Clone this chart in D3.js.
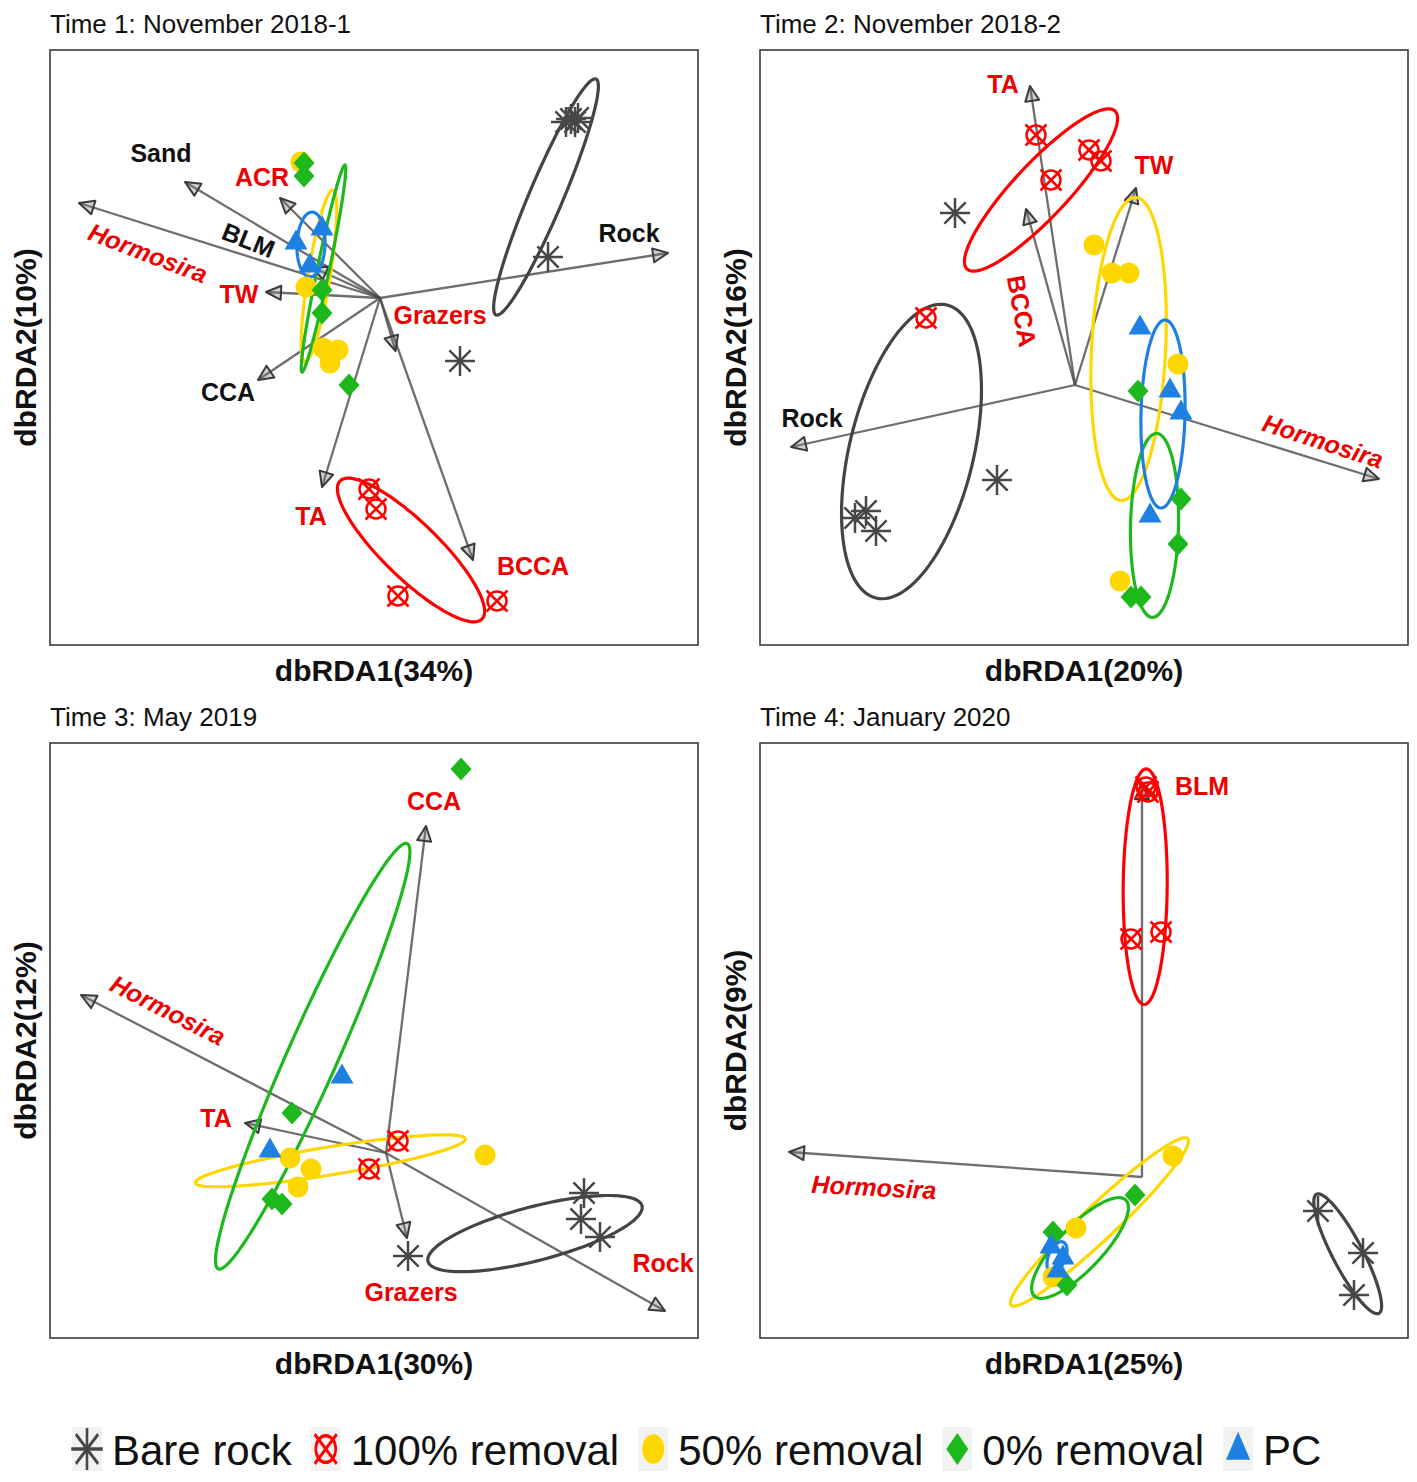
<!DOCTYPE html>
<html>
<head>
<meta charset="utf-8">
<script src="https://cdn.jsdelivr.net/npm/d3@7"></script>
<style>
  body { margin: 0; background: #fff; }
  text { font-family: "Liberation Sans", Arial, sans-serif; }
</style>
</head>
<body>
<div id="chart"></div>
<script>
// Panel titles and axis titles
var panelTitles = ["Time 1: November 2018-1", "Time 2: November 2018-2", "Time 3: May 2019", "Time 4: January 2020"];
var xTitles = ["dbRDA1(34%)", "dbRDA1(20%)", "dbRDA1(30%)", "dbRDA1(25%)"];
var yTitles = ["dbRDA2(10%)", "dbRDA2(16%)", "dbRDA2(12%)", "dbRDA2(9%)"];

// axis extents of each ordination (dbRDA1, dbRDA2)
var xDomains = [[-3.30, 3.18], [-3.15, 3.33], [-3.36, 3.12], [-3.82, 2.66]];
var yDomains = [[-3.47, 2.48], [-2.60, 3.35], [-1.85, 4.10], [-1.61, 4.34]];

var treatments = ["Bare rock", "100% removal", "50% removal", "0% removal", "PC"];

// fitted vectors: [name, dbRDA1, dbRDA2, label dbRDA1, label dbRDA2, significant]
var vectorsT1 = [
  ["Sand", -1.95, 1.16, -2.19, 1.45, 0],
  ["Hormosira", -3.01, 0.95, -2.32, 0.45, 1],
  ["ACR", -1.00, 1.00, -1.18, 1.215, 1],
  ["BLM", -0.68, 0.31, -1.315, 0.58, 0],
  ["TW", -1.14, 0.06, -1.41, 0.045, 1],
  ["CCA", -1.22, -0.82, -1.52, -0.94, 0],
  ["TA", -0.58, -1.89, -0.69, -2.18, 1],
  ["BCCA", 0.93, -2.62, 1.53, -2.68, 1],
  ["Grazers", 0.155, -0.53, 0.60, -0.165, 1],
  ["Rock", 2.88, 0.45, 2.49, 0.65, 0]
];
var vectorsT2 = [
  ["TA", -0.45, 2.99, -0.72, 3.01, 1],
  ["TW", 0.61, 1.97, 0.79, 2.20, 1],
  ["BCCA", -0.49, 1.76, -0.53, 0.74, 1],
  ["Rock", -2.84, -0.62, -2.63, -0.33, 0],
  ["Hormosira", 3.04, -0.94, 2.48, -0.56, 1]
];
var vectorsT3 = [
  ["Hormosira", -3.05, 1.58, -2.18, 1.43, 1],
  ["Rock", 2.79, -1.58, 2.77, -1.10, 1],
  ["CCA", 0.40, 3.27, 0.48, 3.52, 1],
  ["TA", -1.41, 0.30, -1.70, 0.354, 1],
  ["Grazers", 0.21, -0.85, 0.25, -1.39, 1]
];
var vectorsT4 = [
  ["BLM", 0.0, 3.93, 0.60, 3.91, 1],
  ["Hormosira", -3.53, 0.25, -2.68, -0.10, 1]
];

// site scores: [treatment index, dbRDA1, dbRDA2]
var scoresT1 = [
  [0, 1.86, 1.76], [0, 1.91, 1.79], [0, 1.95, 1.76], [0, 1.98, 1.80], [0, 1.68, 0.41], [0, 0.80, -0.63],
  [1, -0.11, -1.91], [1, -0.04, -2.11], [1, 0.18, -2.98], [1, 1.17, -3.03],
  [2, -0.79, 1.36], [2, -0.74, 0.11], [2, -0.57, -0.50], [2, -0.42, -0.52], [2, -0.50, -0.65],
  [3, -0.76, 1.35], [3, -0.76, 1.22], [3, -0.58, 0.08], [3, -0.58, -0.15], [3, -0.31, -0.87],
  [4, -0.84, 0.56], [4, -0.58, 0.70], [4, -0.70, 0.33]
];
var scoresT2 = [
  [0, -1.20, 1.72], [0, -0.78, -0.95], [0, -2.09, -1.26], [0, -2.20, -1.33], [0, -1.99, -1.46],
  [1, -0.39, 2.50], [1, 0.14, 2.35], [1, 0.26, 2.24], [1, -0.24, 2.05], [1, -1.49, 0.67],
  [2, 0.19, 1.40], [2, 0.37, 1.12], [2, 0.54, 1.12], [2, 1.03, 0.21], [2, 0.45, -1.96],
  [3, 0.63, -0.06], [3, 1.06, -1.14], [3, 1.03, -1.59], [3, 0.56, -2.12], [3, 0.66, -2.12],
  [4, 0.65, 0.58], [4, 0.95, -0.05], [4, 1.06, -0.27], [4, 0.75, -1.30]
];
var scoresT3 = [
  [0, 1.98, -0.40], [0, 1.95, -0.66], [0, 2.14, -0.84], [0, 0.22, -1.03],
  [1, 0.12, 0.12], [1, -0.17, -0.16],
  [2, -0.96, -0.05], [2, -0.75, -0.16], [2, -0.88, -0.34], [2, 0.99, -0.02],
  [3, 0.75, 3.84], [3, -0.94, 0.40], [3, -1.14, -0.46], [3, -1.04, -0.51],
  [4, -0.44, 0.77], [4, -1.16, 0.03]
];
var scoresT4 = [
  [0, 1.76, -0.34], [0, 2.21, -0.76], [0, 2.12, -1.18],
  [1, 0.04, 3.90], [1, 0.06, 3.85], [1, -0.11, 2.38], [1, 0.19, 2.45],
  [2, 0.31, 0.21], [2, -0.66, -0.51], [2, -0.89, -1.00],
  [3, -0.07, -0.18], [3, -0.89, -0.55], [3, -0.75, -1.08],
  [4, -0.91, -0.69], [4, -0.79, -0.80], [4, -0.84, -0.93]
];

// group ellipses: [treatment index, centre1, centre2, axisA1, axisA2, axisB1, axisB2]
var ellipsesT1 = [
  [0, 1.66, 1.01, 0.50, 1.18, 0.156, -0.066],
  [1, 0.31, -2.52, 0.71, -0.69, -0.195, -0.20],
  [2, -0.61, 0.22, 0.14, 0.86, 0.109, -0.018],
  [3, -0.565, 0.295, 0.215, 1.035, 0.059, -0.012],
  [4, -0.69, 0.535, 0.01, 0.325, 0.14, 0.0]
];
var ellipsesT2 = [
  [0, -1.635, -0.665, 0.355, 1.465, 0.603, -0.146],
  [1, -0.34, 1.95, 0.74, 0.79, 0.197, -0.185],
  [2, 0.536, 0.36, 0.073, 1.515, 0.37, -0.018],
  [3, 0.795, -1.404, 0.02, 0.92, 0.24, 0],
  [4, 0.88, -0.29, 0.02, 0.94, 0.22, 0]
];
var ellipsesT3 = [
  [0, 1.49, -0.806, 1.07, 0.278, 0.068, -0.261],
  [2, -0.556, -0.078, 1.35, 0.22, 0.0225, -0.138],
  [3, -0.733, 0.968, 0.945, 2.127, 0.229, -0.102]
];
var ellipsesT4 = [
  [0, 2.057, -0.768, -0.312, 0.595, 0.133, 0.07],
  [1, 0.032, 2.903, 0.01, 1.178, 0.22, 0],
  [2, -0.425, -0.45, 0.883, 0.833, 0.117, -0.124],
  [3, -0.62, -0.71, 0.457, 0.48, 0.159, -0.152],
  [4, -0.85, -0.80, 0.06, 0.15, 0.08, -0.03]
];

var allVectors = [vectorsT1, vectorsT2, vectorsT3, vectorsT4];
var allScores = [scoresT1, scoresT2, scoresT3, scoresT4];
var allEllipses = [ellipsesT1, ellipsesT2, ellipsesT3, ellipsesT4];

//Styles
var colors = ["#474747", "#ff0000", "#ffd700", "#1cb81c", "#1e80e3"];
var labelRotation = { "0-Hormosira": 21, "0-BLM": 22, "1-BCCA": 80, "1-Hormosira": 18, "2-Hormosira": 27, "3-Hormosira": 3 };

var svgWidth = 1417, svgHeight = 1482;
var panelW = 648, panelH = 595;
var panelPos = [[50, 50], [760, 50], [50, 743], [760, 743]];

var svg = d3.select("#chart").append("svg")
    .attr("width", svgWidth)
    .attr("height", svgHeight);

// draw one marker of treatment t centred at (cx, cy), k = size factor
function drawMarker(g, t, cx, cy, k) {
  var c = colors[t];
  if (t === 0) {
    var r = 15 * k;
    [0, 45, 90, 135].forEach(function(a) {
      var dx = r * Math.cos(a * Math.PI / 180), dy = r * Math.sin(a * Math.PI / 180);
      g.append("line")
        .attr("x1", cx - dx).attr("y1", cy - dy)
        .attr("x2", cx + dx).attr("y2", cy + dy)
        .attr("stroke", c).attr("stroke-width", 2.5 * k);
    });
  } else if (t === 1) {
    var rr = 9.5 * k, e = 10.5 * k;
    g.append("circle").attr("cx", cx).attr("cy", cy).attr("r", rr)
      .attr("fill", "none").attr("stroke", c).attr("stroke-width", 2.5 * k);
    g.append("path")
      .attr("d", `M${cx - e},${cy - e}L${cx + e},${cy + e}M${cx - e},${cy + e}L${cx + e},${cy - e}`)
      .attr("stroke", c).attr("stroke-width", 2.5 * k).attr("fill", "none");
  } else if (t === 2) {
    g.append("circle").attr("cx", cx).attr("cy", cy).attr("r", 10.5 * k).attr("fill", c);
  } else if (t === 3) {
    var w = 10.5 * k, h = 11.5 * k;
    g.append("path")
      .attr("d", `M${cx},${cy - h}L${cx + w},${cy}L${cx},${cy + h}L${cx - w},${cy}Z`)
      .attr("fill", c);
  } else {
    var hw = 11.5 * k, th = 20 * k;
    g.append("path")
      .attr("d", `M${cx},${cy - th * 0.62}L${cx + hw},${cy + th * 0.38}L${cx - hw},${cy + th * 0.38}Z`)
      .attr("fill", c);
  }
}

panelTitles.forEach(function(title, i) {
  var g = svg.append("g")
      .attr("transform", `translate(${panelPos[i][0]}, ${panelPos[i][1]})`);

  var x = d3.scaleLinear().domain(xDomains[i]).range([0, panelW]);
  var y = d3.scaleLinear().domain(yDomains[i]).range([panelH, 0]);

  // frame
  g.append("rect")
    .attr("width", panelW).attr("height", panelH)
    .attr("fill", "none").attr("stroke", "#3a3a3a").attr("stroke-width", 1.6);

  // titles
  g.append("text").attr("x", 0).attr("y", -17)
    .style("font-size", "26px").style("fill", "#111")
    .text(title);
  g.append("text")
    .attr("x", panelW / 2).attr("y", panelH + 36)
    .attr("text-anchor", "middle")
    .style("font-size", "30px").style("font-weight", "bold").style("fill", "#111")
    .text(xTitles[i]);
  g.append("text")
    .attr("transform", `translate(-14, ${panelH / 2}) rotate(-90)`)
    .attr("text-anchor", "middle")
    .style("font-size", "30px").style("font-weight", "bold").style("fill", "#111")
    .text(yTitles[i]);

  //Vector arrows
  var ox = x(0), oy = y(0);
  allVectors[i].forEach(function(v) {
    var tx = x(v[1]), ty = y(v[2]);
    var ang = Math.atan2(ty - oy, tx - ox) * 180 / Math.PI;
    g.append("line")
      .attr("x1", ox).attr("y1", oy).attr("x2", tx).attr("y2", ty)
      .attr("stroke", "#4a4a4a").attr("stroke-opacity", 0.8).attr("stroke-width", 2.3);
    g.append("path")
      .attr("d", "M0,0L-15,-7L-15,7Z")
      .attr("transform", `translate(${tx},${ty}) rotate(${ang})`)
      .attr("fill", "#777").attr("fill-opacity", 0.35)
      .attr("stroke", "#3a3a3a").attr("stroke-width", 2).attr("stroke-linejoin", "round");
  });

  //Ellipses
  var ellipseLine = d3.line().x(d => x(d[0])).y(d => y(d[1])).curve(d3.curveLinearClosed);
  allEllipses[i].forEach(function(e) {
    var pts = d3.range(0, 360, 3).map(function(a) {
      var t = a * Math.PI / 180;
      return [e[1] + e[3] * Math.cos(t) + e[5] * Math.sin(t),
              e[2] + e[4] * Math.cos(t) + e[6] * Math.sin(t)];
    });
    g.append("path")
      .attr("d", ellipseLine(pts))
      .attr("fill", "none")
      .attr("stroke", e[0] === 0 ? "#444" : colors[e[0]])
      .attr("stroke-width", 3.2);
  });

  //Site points
  var pointsG = g.append("g");
  allScores[i].forEach(function(s) {
    drawMarker(pointsG, s[0], x(s[1]), y(s[2]), 1);
  });

  //Vector labels
  allVectors[i].forEach(function(v) {
    var lx = x(v[3]), ly = y(v[4]);
    var rot = labelRotation[i + "-" + v[0]] || 0;
    g.append("text")
      .attr("transform", `translate(${lx},${ly}) rotate(${rot})`)
      .attr("text-anchor", "middle")
      .attr("dominant-baseline", "central")
      .style("font-size", "25px")
      .style("font-weight", "bold")
      .style("font-style", v[0] === "Hormosira" ? "italic" : "normal")
      .style("fill", v[5] ? "#ee0000" : "#111")
      .text(v[0]);
  });
});

//Legend
var legend = svg.append("g");
var lx = 72, keyTop = 1427, keyW = 30, keyH = 44;
treatments.forEach(function(name, t) {
  legend.append("rect")
    .attr("x", lx).attr("y", keyTop).attr("width", keyW).attr("height", keyH)
    .attr("fill", "#f2f2f2");
  var kg = legend.append("g")
    .attr("transform", `translate(${lx + keyW / 2}, ${keyTop + keyH / 2}) scale(1.05, 1.4)`);
  drawMarker(kg, t, 0, 0, 1);
  var txt = legend.append("text")
    .attr("x", lx + keyW + 10).attr("y", 1465)
    .style("font-size", "42px").style("fill", "#111")
    .text(name);
  lx = lx + keyW + 10 + txt.node().getComputedTextLength() + 19;
});
</script>
</body>
</html>
